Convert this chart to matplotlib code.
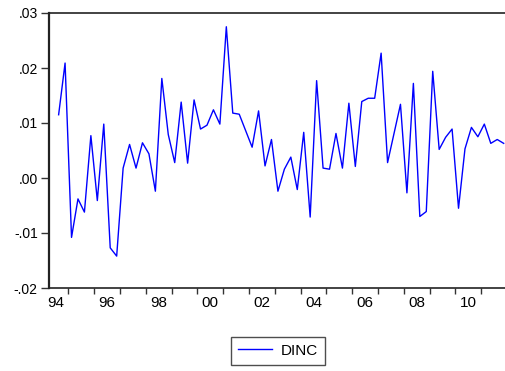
import matplotlib
matplotlib.use("Agg")
import matplotlib.pyplot as plt
import numpy as np

plt.rcParams['font.family'] = ['Liberation Sans', 'DejaVu Sans']

# Quarterly series DINC, 1994Q3 .. 2011Q4
dinc = [
    0.0115, 0.0209, -0.0108, -0.0038, -0.0062, 0.0077, -0.0041, 0.0098,
    -0.0127, -0.0142, 0.0018, 0.0061, 0.0018, 0.0064, 0.0044, -0.0024,
    0.0181, 0.0079, 0.0028, 0.0138, 0.0027, 0.0142, 0.0089, 0.0096,
    0.0124, 0.0098, 0.0275, 0.0118, 0.0116, 0.0086, 0.0056, 0.0122,
    0.0022, 0.0070, -0.0024, 0.0016, 0.0038, -0.0021, 0.0083, -0.0071,
    0.0177, 0.0018, 0.0016, 0.0081, 0.0018, 0.0136, 0.0021, 0.0139,
    0.0145, 0.0145, 0.0227, 0.0028, 0.0081, 0.0134, -0.0027, 0.0172,
    -0.0070, -0.0061, 0.0194, 0.0052, 0.0074, 0.0089, -0.0055, 0.0053,
    0.0092, 0.0075, 0.0098, 0.0063, 0.0070, 0.0063,
]
start_year = 1994
start_quarter = 3
series_name = "DINC"
ytick_values = [-0.02, -0.01, 0.00, 0.01, 0.02, 0.03]
ytick_labels = ["-.02", "-.01", ".00", ".01", ".02", ".03"]
label_years = list(range(1994, 2011, 2))

n = len(dinc)
t = start_year + (start_quarter - 1) / 4 + np.arange(n) / 4 + 0.125

W, H = 505, 371
fig = plt.figure(figsize=(W / 100, H / 100), dpi=100)
left_px, right_px = 48.95, 506.9
top_px, bot_px = 13, 288
ax = fig.add_axes([left_px / W, 1 - bot_px / H, (right_px - left_px) / W, (bot_px - top_px) / H])

line, = ax.plot(t, dinc, color='#0000ff', lw=1.0, label=series_name)

ax.set_xlim(1994.25, 2012.0)
ax.set_ylim(-0.02, 0.03)
ax.set_yticks(ytick_values)
ax.set_yticklabels(ytick_labels)

ax.set_xticks(np.arange(1995, 2012))
ax.set_xticklabels([])
ax.set_xticks([y + 0.5 for y in label_years], minor=True)
ax.set_xticklabels([f"{y % 100:02d}" for y in label_years], minor=True)

ax.tick_params(axis='x', which='major', direction='out', length=4.5, width=1, color='#333333')
ax.tick_params(axis='x', which='minor', length=0, labelsize=11, pad=6)
ax.tick_params(axis='y', direction='out', length=6, width=1, color='#333333', labelsize=10, pad=2)

for s in ax.spines.values():
    s.set_color('#222222')
    s.set_linewidth(1.2)
ax.spines['left'].set_linewidth(1.6)

leg = fig.legend(handles=[line], loc='center', bbox_to_anchor=(278 / W, 1 - 350.8 / H),
                 frameon=True, fancybox=False, shadow=False, fontsize=11,
                 handlelength=2.2, borderpad=0.45, handletextpad=0.6)
leg.get_frame().set_edgecolor('#222222')
leg.get_frame().set_linewidth(1.0)

fig.savefig("out.png", dpi=100)
